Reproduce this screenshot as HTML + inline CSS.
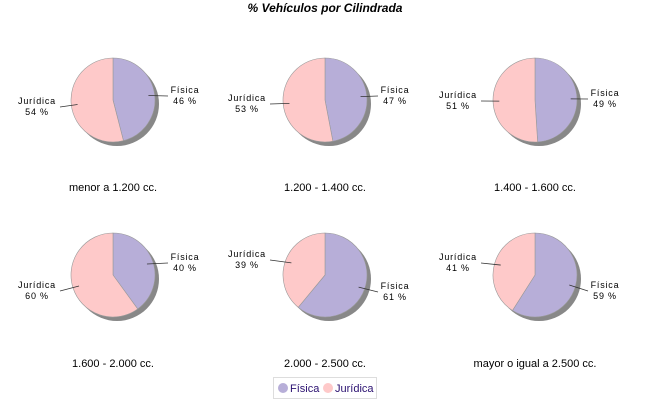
<!DOCTYPE html><html><head><meta charset="utf-8"><style>
body{margin:0;width:650px;height:400px;background:#fff;overflow:hidden}
svg{display:block}
text{font-family:"Liberation Sans",sans-serif}
</style></head><body>
<svg id="s" width="650" height="400" xmlns="http://www.w3.org/2000/svg">
<text x="325" y="12" text-anchor="middle" font-size="12" font-weight="bold" font-style="italic">% Vehículos por Cilindrada</text>
<rect x="273.5" y="377.5" width="103" height="21" fill="#fff" stroke="#ddd"/>
<circle cx="283" cy="388" r="5" fill="#b7aed8"/>
<text x="290" y="392" font-size="11" fill="#2a1070">Física</text>
<circle cx="328" cy="388" r="5" fill="#fec9c9"/>
<text x="335" y="392" font-size="11" fill="#2a1070">Jurídica</text>
</svg>
<script>
var s=document.getElementById('s'),ns='http://www.w3.org/2000/svg';
var P=[[113,100,46,'menor a 1.200 cc.',[172,90],[38,101],191],
[325,100,47,'1.200 - 1.400 cc.',[382,90],[248,98],191],
[535,100,49,'1.400 - 1.600 cc.',[592,93],[459,95],191],
[113,275,40,'1.600 - 2.000 cc.',[172,257],[38,285],367],
[325,275,61,'2.000 - 2.500 cc.',[382,286],[248,254],367],
[535,275,59,'mayor o igual a 2.500 cc.',[592,285],[459,257],367]];
var R=42;
function el(t,a,txt){var e=document.createElementNS(ns,t);for(var k in a)e.setAttribute(k,a[k]);if(txt)e.textContent=txt;s.appendChild(e);return e}
function pt(cx,cy,r,f){var a=f*2*Math.PI;return [cx+r*Math.sin(a),cy-r*Math.cos(a)]}
P.forEach(function(p){var cx=p[0],cy=p[1],f=p[2]/100;
el('circle',{cx:cx+4,cy:cy+4,r:R,fill:'#888'});
var a=pt(cx,cy,R,0),b=pt(cx,cy,R,f);
el('path',{d:'M'+cx+','+cy+'L'+a+'A'+R+','+R+' 0 '+(f>.5?1:0)+' 1 '+b+'Z',fill:'#b7aed8',stroke:'#999','stroke-width':.6});
el('path',{d:'M'+cx+','+cy+'L'+b+'A'+R+','+R+' 0 '+(f>.5?0:1)+' 1 '+a+'Z',fill:'#fec9c9',stroke:'#999','stroke-width':.6});
el('text',{x:cx,y:p[6],'text-anchor':'middle','font-size':11},p[3]);
var m1=pt(cx,cy,R*.85,f/2),m2=pt(cx,cy,R*.85,(1+f)/2);
var L=[[p[4],m1,p[2],'Física',1],[p[5],m2,100-p[2],'Jurídica',-1]];
L.forEach(function(l){var lx=l[0][0],ly=l[0][1];
var x2=l[4]>0?lx-4:lx+22;
el('line',{x1:l[1][0],y1:l[1][1],x2:x2,y2:ly+6,stroke:'#333','stroke-width':.8});
var tx=l[4]>0?lx+13:lx-1;
el('text',{x:tx,y:ly+3,'text-anchor':'middle','font-size':9,'letter-spacing':'0.8'},l[3]);
el('text',{x:tx,y:ly+14,'text-anchor':'middle','font-size':9,'letter-spacing':'0.8'},l[2]+' %');});
});
</script>
</body></html>
